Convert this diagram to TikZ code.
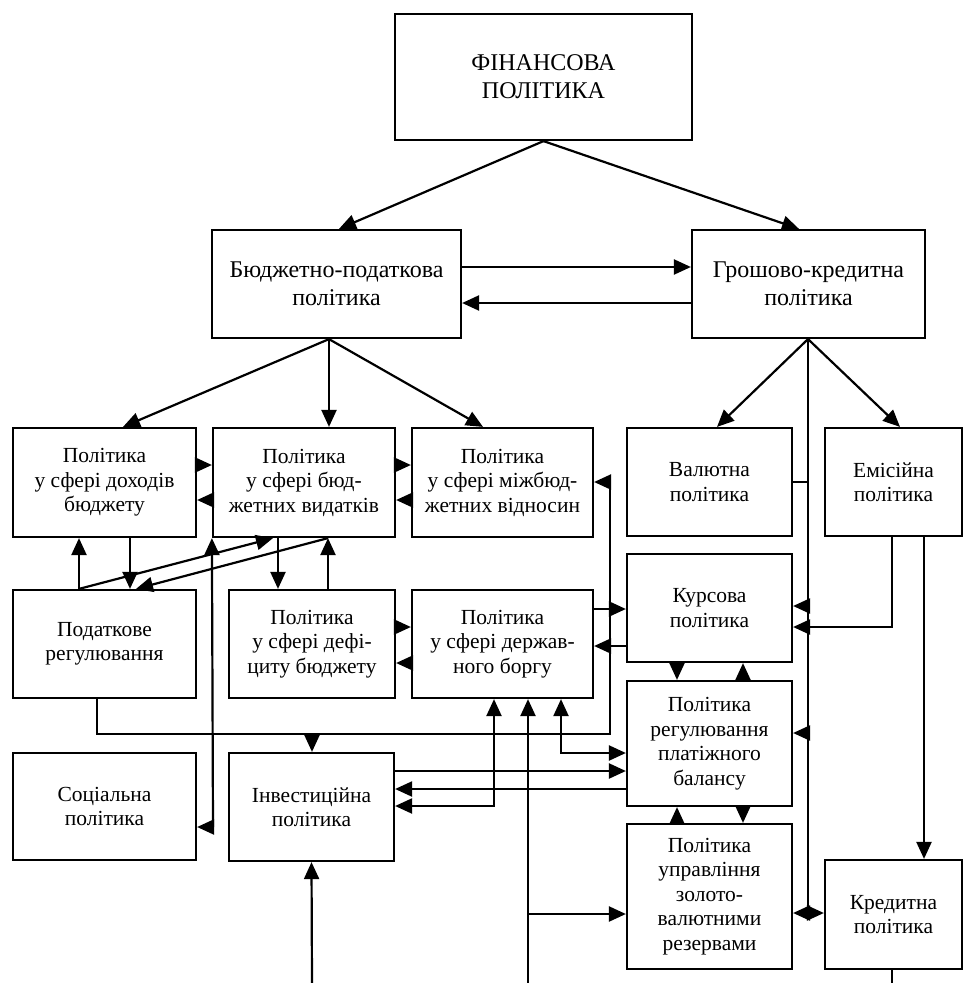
\documentclass[tikz,border=0pt]{standalone}
\usepackage{fontspec}
\setmainfont{Liberation Serif}
\usetikzlibrary{arrows.meta}
\begin{document}
\begin{tikzpicture}[x=1pt,y=-1pt,
  >={Triangle[length=17pt,width=15pt]},
  box/.style={draw, line width=2.2pt, align=center, inner sep=0pt,
    font=\fontsize{21.5}{24.5}\selectfont},
  bigbox/.style={box, font=\fontsize{24}{28}\selectfont},
  every path/.style={line width=2.2pt}]
\useasboundingbox (0,0) rectangle (965,983);
% nodes
\node[bigbox, minimum width=297, minimum height=126] (fin) at (543.5,77) {ФІНАНСОВА\\ПОЛІТИКА};
\node[bigbox, minimum width=249, minimum height=108] (bud) at (336.5,284) {Бюджетно-податкова\\політика};
\node[bigbox, minimum width=233, minimum height=108] (gro) at (808.5,284) {Грошово-кредитна\\політика};
\node[box, minimum width=183, minimum height=109] (dox) at (104.5,482.5) {Політика\\у сфері доходів\\бюджету};
\node[box, minimum width=182, minimum height=109] (vyd) at (304,482.5) {Політика\\у сфері бюд-\\жетних видатків};
\node[box, minimum width=181, minimum height=109] (mbv) at (502.5,482.5) {Політика\\у сфері міжбюд-\\жетних відносин};
\node[box, minimum width=165, minimum height=108] (val) at (709.5,482) {Валютна\\політика};
\node[box, minimum width=137, minimum height=108] (emi) at (893.5,482) {Емісійна\\політика};
\node[box, minimum width=183, minimum height=108] (pod) at (104.5,644) {Податкове\\регулювання};
\node[box, minimum width=166, minimum height=108] (def) at (312,644) {Політика\\у сфері дефі-\\циту бюджету};
\node[box, minimum width=181, minimum height=108] (borg) at (502.5,644) {Політика\\у сфері держав-\\ного боргу};
\node[box, minimum width=165, minimum height=108] (kur) at (709.5,608) {Курсова\\політика};
\node[box, minimum width=165, minimum height=125] (plat) at (709.5,743.5) {Політика\\регулювання\\платіжного\\балансу};
\node[box, minimum width=165, minimum height=145] (zol) at (709.5,896.5) {Політика\\управління\\золото-\\валютними\\резервами};
\node[box, minimum width=137, minimum height=109] (kred) at (893.5,914.5) {Кредитна\\політика};
\node[box, minimum width=183, minimum height=107] (soc) at (104.5,806.5) {Соціальна\\політика};
\node[box, minimum width=165, minimum height=108] (inv) at (311.5,807) {Інвестиційна\\політика};
% free-end coordinates
\coordinate (b1) at (312,983);
\coordinate (b2) at (528,983);
\coordinate (b3) at (892,983);
\coordinate (j808) at (808,913);
\coordinate (j528) at (528,914);
% top level
\draw[->] (fin.south) -- (339,0 |- bud.north);
\draw[->] (fin.south) -- (799,0 |- gro.north);
\draw[->] (bud.east |- 0,267) -- (gro.west |- 0,267);
\draw[->] (gro.west |- 0,303) -- (bud.east |- 0,303);
\draw[->] (329,0 |- bud.south) -- (123,0 |- dox.north);
\draw[->] (329,0 |- bud.south) -- (329,0 |- vyd.north);
\draw[->] (329,0 |- bud.south) -- (483,0 |- mbv.north);
\draw[->] (808,0 |- gro.south) -- (717,0 |- val.north);
\draw[->] (808,0 |- gro.south) -- (900,0 |- emi.north);
% row 1 horizontal links
\draw[->] (dox.east |- 0,465) -- (vyd.west |- 0,465);
\draw[->] (vyd.west |- 0,500) -- (dox.east |- 0,500);
\draw[->] (vyd.east |- 0,465) -- (mbv.west |- 0,465);
\draw[->] (mbv.west |- 0,500) -- (vyd.east |- 0,500);
% row 1 / row 2 links
\draw[->] (79,0 |- pod.north) -- (79,0 |- dox.south);
\draw[->] (130,0 |- dox.south) -- (130,0 |- pod.north);
\draw[->] (79,0 |- pod.north) -- (273,0 |- vyd.south);
\draw[->] (328,0 |- vyd.south) -- (136,0 |- pod.north);
\draw[->] (278,0 |- vyd.south) -- (278,0 |- def.north);
\draw[->] (328,0 |- def.north) -- (328,0 |- vyd.south);
\draw[<->] (vyd.south west) -- (213,827) -- (soc.east |- 0,827);
% def <-> borg
\draw[->] (def.east |- 0,627) -- (borg.west |- 0,627);
\draw[->] (borg.west |- 0,663) -- (def.east |- 0,663);
% pod bottom route
\draw[->] (97,0 |- pod.south) -- (97,734) -- (610,734) -- (610,482) -- (mbv.east |- 0,482);
\draw[->] (312,734) -- (312,0 |- inv.north);
% borg <-> kur
\draw[->] (borg.east |- 0,609) -- (kur.west |- 0,609);
\draw[->] (kur.west |- 0,646) -- (borg.east |- 0,646);
% kur / plat / zol
\draw[->] (677,0 |- kur.south) -- (677,0 |- plat.north);
\draw[->] (743,0 |- plat.north) -- (743,0 |- kur.south);
\draw[->] (677,0 |- zol.north) -- (677,0 |- plat.south);
\draw[->] (743,0 |- plat.south) -- (743,0 |- zol.north);
% right vertical trunk
\draw (808,0 |- gro.south) -- (j808);
\draw (val.east |- 0,482) -- (808,482);
\draw[->] (808,606) -- (kur.east |- 0,606);
\draw[->] (808,733) -- (plat.east |- 0,733);
\draw[->] (j808) -- (zol.east |- j808);
\draw[->] (j808) -- (kred.west |- j808);
% emission links
\draw[->] (892,0 |- emi.south) -- (892,627) -- (kur.east |- 0,627);
\draw[->] (924,0 |- emi.south) -- (924,0 |- kred.north);
% borg / plat / inv
\draw[<->] (561,0 |- borg.south) -- (561,753) -- (plat.west |- 0,753);
\draw[->] (inv.east |- 0,771) -- (plat.west |- 0,771);
\draw[->] (plat.west |- 0,789) -- (inv.east |- 0,789);
\draw[<->] (494,0 |- borg.south) -- (494,806) -- (inv.east |- 0,806);
% bottom inputs
\draw[->] (b2) -- (528,0 |- borg.south);
\draw[->] (j528) -- (zol.west |- j528);
\draw[->] (b1) -- (inv.south);
\draw (892,0 |- kred.south) -- (b3);
\end{tikzpicture}
\end{document}
